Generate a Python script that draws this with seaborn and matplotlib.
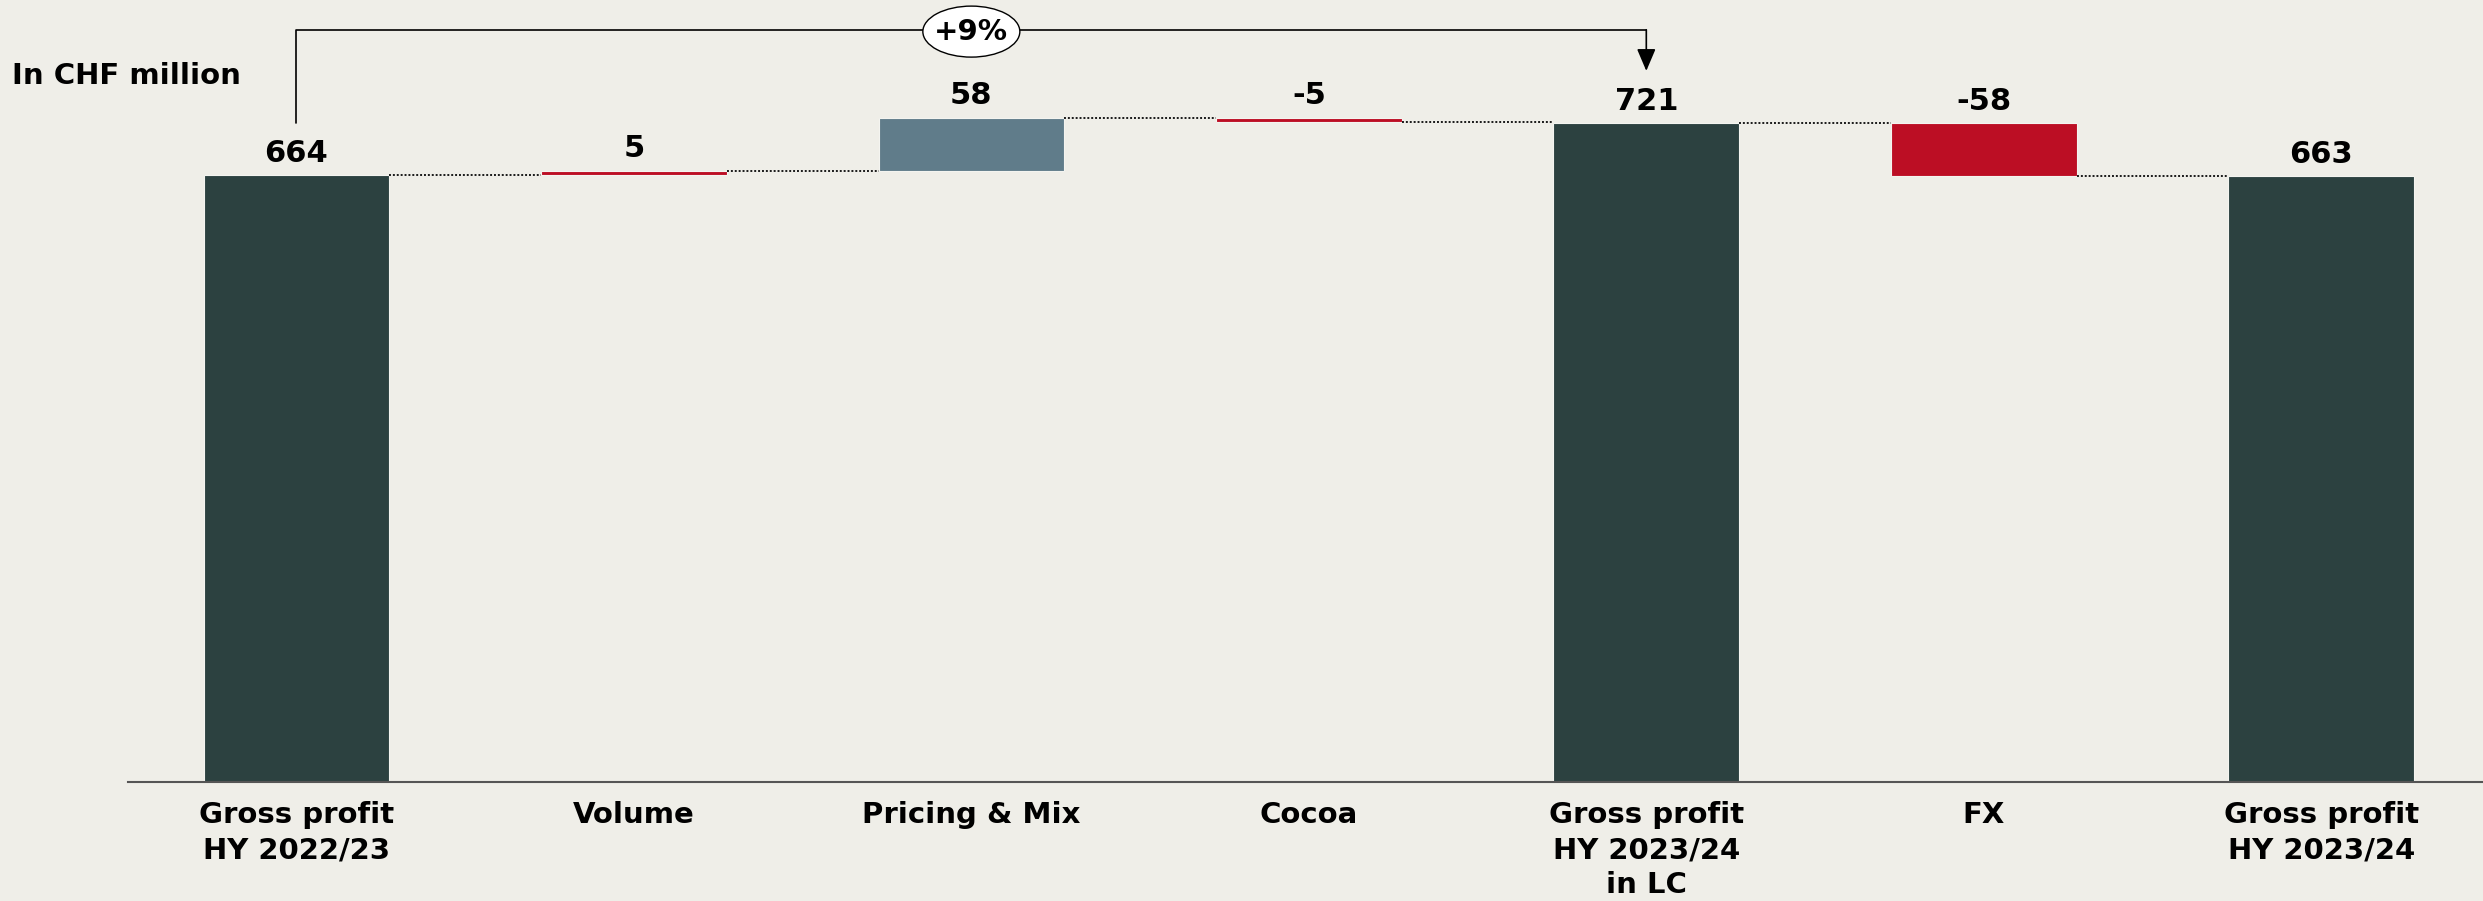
import matplotlib
matplotlib.use("Agg")
import matplotlib.pyplot as plt
import seaborn as sns
import numpy as np
import pandas as pd
from matplotlib.patches import Ellipse

# ---- data ----
categories = ["Gross profit\nHY 2022/23", "Volume", "Pricing & Mix", "Cocoa",
              "Gross profit\nHY 2023/24\nin LC", "FX", "Gross profit\nHY 2023/24"]
changes = [664, 5, 58, -5, 721, -58, 663]
kinds = ["total", "delta", "delta", "delta", "total", "delta", "total"]
value_labels = ["664", "5", "58", "-5", "721", "-58", "663"]
bar_colors = ["#2C4140", "#BC0E24", "#607C8A", "#BC0E24", "#2C4140", "#BC0E24", "#2C4140"]
growth_label = "+9%"
growth_from, growth_to = 0, 4
unit_label = "In CHF million"

# ---- waterfall geometry from data ----
bottoms, heights, levels = [], [], []
running = 0
for v, k in zip(changes, kinds):
    if k == "total":
        bottoms.append(0)
        heights.append(v)
        running = v
    else:
        bottoms.append(running if v > 0 else running + v)
        heights.append(abs(v))
        running += v
    levels.append(running)
tops = [b + h for b, h in zip(bottoms, heights)]

df = pd.DataFrame({"category": categories, "height": heights})

BG = "#EFEEE8"
sns.set_theme(style="white", rc={"figure.facecolor": BG, "axes.facecolor": BG})
plt.rcParams["font.family"] = ["DejaVu Sans"]

fig = plt.figure(figsize=(24.83, 9.01), dpi=100)
W, H = 2483, 901
axis_y = 782
px_per_unit = 0.914
ax_left = 127.65
ax_right = 2490
ax = fig.add_axes([ax_left / W, (H - axis_y) / H, (ax_right - ax_left) / W, axis_y / H])
ax.set_facecolor(BG)

bw = 0.55
sns.barplot(data=df, x="category", y="height", bottom=np.array(bottoms), width=bw,
            errorbar=None, color=bar_colors[0], saturation=1, ax=ax,
            edgecolor="#F4F4F0", linewidth=0.8)
for patch, c in zip(ax.patches, bar_colors):
    patch.set_facecolor(c)

ax.set_xlim(-0.5, 6.5)
ax.set_ylim(0, axis_y / px_per_unit)

# connectors
for i in range(len(categories) - 1):
    ax.plot([i + bw / 2, i + 1 - bw / 2], [levels[i], levels[i]],
            color="#1A1A1A", lw=1.4, ls=(0, (1, 1)), zorder=3)

# value labels
for i, t in enumerate(value_labels):
    ax.annotate(t, (i, tops[i]), xytext=(0, 9.5), textcoords="offset points",
                ha="center", va="baseline", fontsize=22, fontweight="bold", color="black")

# growth bracket
y_br = 823
y_start = changes[growth_to]
ax.plot([growth_from, growth_from, growth_to], [y_start, y_br, y_br],
        color="black", lw=1.2, clip_on=False, zorder=4)
ax.annotate("", xy=(growth_to, 778), xytext=(growth_to, y_br),
            arrowprops=dict(arrowstyle="-|>,head_length=0.4,head_width=0.17",
                            mutation_scale=34, lw=1.2, color="black",
                            shrinkA=0, shrinkB=0), zorder=4)
ell = Ellipse(((growth_from + growth_to) / 2, 821), width=97 / 337.5, height=51 / px_per_unit,
              facecolor="white", edgecolor="black", lw=1.0, zorder=5, clip_on=False)
ax.add_patch(ell)
ax.text((growth_from + growth_to) / 2, 821, growth_label, ha="center", va="center",
        fontsize=21, fontweight="bold", color="black", zorder=6)

# axes styling
for s in ["top", "right", "left"]:
    ax.spines[s].set_visible(False)
ax.spines["bottom"].set_color("#555555")
ax.spines["bottom"].set_linewidth(1.5)
ax.set_yticks([])
ax.set_xlabel("")
ax.set_ylabel("")
ax.set_xticks(range(len(categories)))
ax.set_xticklabels(categories, fontsize=21, fontweight="bold", color="black", linespacing=1.3)
ax.tick_params(axis="x", length=0, pad=14)

fig.text(12 / W, 1 - 84.3 / H, unit_label, ha="left", va="baseline",
         fontsize=21, fontweight="bold", color="black")

fig.savefig("out.png", dpi=100, facecolor=BG)
